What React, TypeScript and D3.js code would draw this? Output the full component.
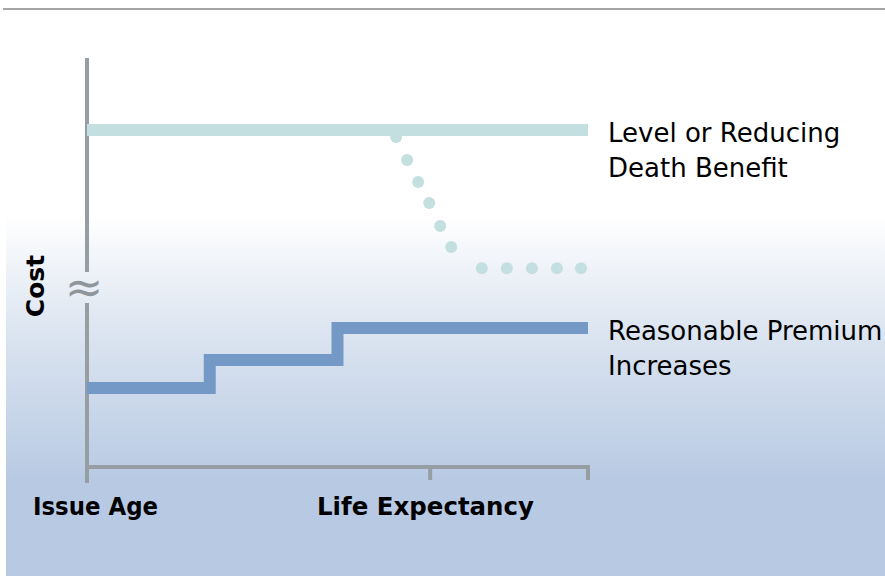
import React from "react";
import * as d3 from "d3";

const W = 885;
const H = 580;

const xTickValues = [0, 68.5, 100];
const xTickLabels = ["Issue Age", "Life Expectancy"];
const yLabel = "Cost";

const levelLine = [
  { x: 0, y: 82.7 },
  { x: 100, y: 82.7 },
];
const reducingDotsX = [61.7, 63.9, 66.1, 68.3, 70.5, 72.7, 78.8, 83.8, 88.8, 93.8, 98.6];
const reducingDotsY = [81.0, 75.3, 69.9, 64.7, 59.0, 53.8, 48.6, 48.6, 48.6, 48.6, 48.6];
const premiumStepX = [0, 24.5, 50, 100];
const premiumStepY = [19.0, 25.9, 33.8, 33.8];

const seriesLabels = [
  ["Level or Reducing", "Death Benefit"],
  ["Reasonable Premium", "Increases"],
];

export default function App() {
  const x = d3.scaleLinear().domain([0, 100]).range([87, 588]);
  const y = d3.scaleLinear().domain([0, 100]).range([465, 60]);

  const lvl = d3
    .line<{ x: number; y: number }>()
    .x((d) => x(d.x))
    .y((d) => y(d.y))(levelLine);

  const premPts = premiumStepX.map((v, i) => ({ x: v, y: premiumStepY[i] }));
  const prem = d3
    .line<{ x: number; y: number }>()
    .x((d) => x(d.x))
    .y((d) => y(d.y))
    .curve(d3.curveStepAfter)(premPts);

  const font = "Tahoma, 'DejaVu Sans', sans-serif";
  const axisColor = "#979ea3";
  const labelX = [33, 317];
  const labelLen = [125, 217];

  return (
    <svg width={W} height={H} style={{ position: "absolute", left: 0, top: 0 }}>
      <defs>
        <linearGradient id="bg2" x1="0" y1="215" x2="0" y2="480" gradientUnits="userSpaceOnUse">
          <stop offset="0" stopColor="#ffffff" />
          <stop offset="0.45" stopColor="#dbe4f0" />
          <stop offset="1" stopColor="#b8cae3" />
        </linearGradient>
      </defs>
      <rect x={0} y={0} width={W} height={H} fill="#ffffff" />
      <rect x={6} y={10} width={W - 6} height={566} fill="url(#bg2)" />
      <line x1={3} x2={W} y1={9} y2={9} stroke="#a3a5a7" strokeWidth={2} />

      {/* y axis with break */}
      <line x1={x(0)} x2={x(0)} y1={58} y2={272} stroke={axisColor} strokeWidth={4} />
      <line x1={x(0)} x2={x(0)} y1={303} y2={467} stroke={axisColor} strokeWidth={4} />
      <text x={x(0) - 3} y={303} textAnchor="middle" fontSize={46} fill="#8f969b" fontFamily={font}>≈</text>

      {/* x axis */}
      <line x1={x(0) - 2} x2={x(100) + 2} y1={467} y2={467} stroke={axisColor} strokeWidth={4} />
      {xTickValues.map((t, i) => (
        <line key={i} x1={x(t)} x2={x(t)} y1={465} y2={i === 0 ? 483 : 480} stroke={axisColor} strokeWidth={4} />
      ))}
      {xTickLabels.map((l, i) => (
        <text key={l} x={labelX[i]} y={515} textLength={labelLen[i]} lengthAdjust="spacingAndGlyphs"
          fontSize={25} fontWeight="bold" fontFamily={font} fill="#000">{l}</text>
      ))}
      <text transform={`translate(44,286) rotate(-90)`} textAnchor="middle" fontSize={25}
        fontWeight="bold" fontFamily={font} fill="#000">{yLabel}</text>

      {/* level death benefit */}
      <path d={lvl || ""} fill="none" stroke="#c4dfe0" strokeWidth={12} />
      {reducingDotsX.map((v, i) => (
        <circle key={i} cx={x(v)} cy={y(reducingDotsY[i])} r={6} fill="#c4dfe0" />
      ))}

      {/* premium */}
      <path d={prem || ""} fill="none" stroke="#7499c6" strokeWidth={12} />

      {seriesLabels.map((lines, si) => (
        <text key={si} x={608} y={si === 0 ? 142 : 340} fontSize={26} fontFamily={font} fill="#000">
          {lines.map((ln, j) => (
            <tspan key={j} x={608} dy={j === 0 ? 0 : 35}>{ln}</tspan>
          ))}
        </text>
      ))}
    </svg>
  );
}
